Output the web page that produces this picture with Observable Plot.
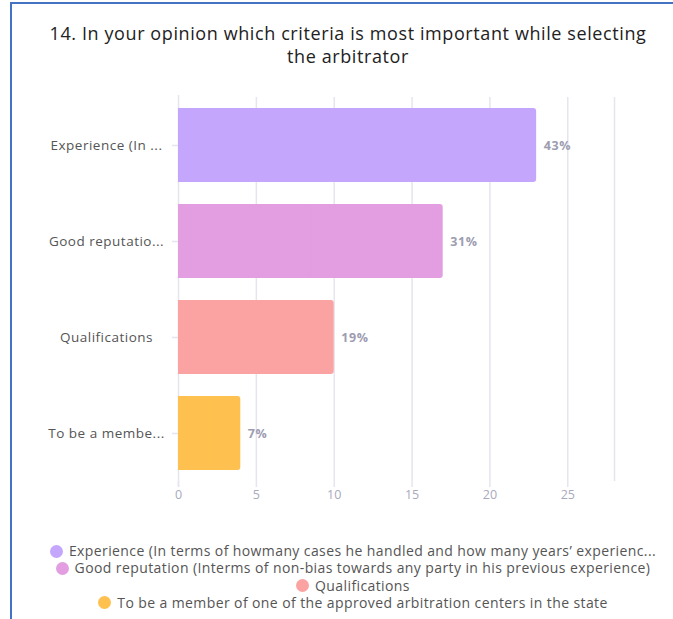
<!DOCTYPE html>
<html>
<head>
<meta charset="utf-8">
<script src="https://cdn.jsdelivr.net/npm/d3@7"></script>
<script src="https://cdn.jsdelivr.net/npm/@observablehq/plot@0.6"></script>
<style>
  html, body { margin: 0; padding: 0; background: #fff; overflow: hidden; }
  body { width: 673px; height: 619px; position: relative; font-family: "Open Sans", sans-serif; }
  #frame { position: absolute; left: 10px; top: 2px; width: 700px; height: 700px;
           border-left: 2px solid #4472c4; border-top: 2px solid #4472c4; }
  #title { position: absolute; left: 0px; width: 696px; top: 22px; text-align: center;
           font-size: 18px; line-height: 23px; color: #222; white-space: nowrap; letter-spacing: 0.6px; }
  #chart { position: absolute; left: 0; top: 80px; }
  #legend { position: absolute; left: 38px; width: 630px; top: 542px; text-align: center;
            font-size: 14px; line-height: 17.3px; color: #555; letter-spacing: 0.4px; }
  .item { white-space: nowrap; }
  .dot { display: inline-block; width: 13px; height: 13px; border-radius: 50%;
         vertical-align: -1.5px; margin-right: 6px; }
  #chart svg g[aria-label="y-axis tick label"] text { letter-spacing: 0.5px; }
  #chart svg g[aria-label="text"] text { letter-spacing: 0.6px; }
</style>
</head>
<body>
<div id="frame"></div>
<div id="title"></div>
<div id="chart"></div>
<div id="legend"></div>
<script>
const titleLines = ["14. In your opinion which criteria is most important while selecting", "the arbitrator"];
const categories = ["Experience (In ...", "Good reputatio...", "Qualifications", "To be a membe..."];
const legendLabels = [
  "Experience (In terms of howmany cases he handled and how many years\u2019 experienc...",
  "Good reputation (Interms of non-bias towards any party in his previous experience)",
  "Qualifications",
  "To be a member of one of the approved arbitration centers in the state"
];
const values = [23, 17, 10, 4];
const percents = ["43%", "31%", "19%", "7%"];
const colors = ["#c4a6fd", "#e29ee0", "#fba3a2", "#fec14f"];
const xTicks = [0, 5, 10, 15, 20, 25];
const xMax = 28;

const data = categories.map((c, i) => ({cat: c, value: values[i], pct: percents[i], color: colors[i]}));
const gridColor = "#e6e5ef";

const title = document.getElementById("title");
titleLines.forEach(t => { const d = document.createElement("div"); d.textContent = t; title.appendChild(d); });

const chart = Plot.plot({
  width: 673,
  height: 430,
  marginLeft: 178,
  marginRight: 59,
  marginTop: 17,
  marginBottom: 29,
  style: {fontFamily: "'Open Sans', sans-serif", background: "transparent"},
  x: {domain: [0, xMax], axis: null},
  y: {domain: categories, paddingInner: 0.23, paddingOuter: 0.115, axis: null},
  marks: [
    Plot.gridX([...xTicks.slice(1), xMax], {stroke: gridColor, strokeOpacity: 1, strokeWidth: 1.5}),
    Plot.ruleY([0], {frameAnchor: "bottom", x1: 0, x2: xMax, stroke: gridColor, strokeWidth: 1.5}),
    Plot.ruleX([0], {stroke: gridColor, strokeWidth: 1.5, insetTop: -2, insetBottom: -6}),
    Plot.barX(data, {x: "value", y: "cat", fill: "color", rx: 3}),
    Plot.barX(data, {x1: 0, x2: d => d.value / 2, y: "cat", fill: "color"}),
    Plot.text(data, {x: "value", y: "cat", text: "pct", dx: 7, textAnchor: "start",
      fill: "#9d9db1", fontSize: 12.5, fontWeight: "bold"}),
    Plot.axisX({ticks: xTicks, tickSize: 6, tickPadding: 3, stroke: gridColor, fill: "#a9a9bd",
      fontSize: 12.5, strokeWidth: 1.5, label: null}),
    Plot.axisY({tickSize: 6, tickPadding: 66, textAnchor: "middle", stroke: gridColor,
      fill: "#555", fontSize: 13.5, strokeWidth: 1.5, label: null})
  ]
});
document.getElementById("chart").appendChild(chart);

const legend = document.getElementById("legend");
legendLabels.forEach((l, i) => {
  const div = document.createElement("div");
  div.className = "item";
  const dot = document.createElement("span");
  dot.className = "dot";
  dot.style.background = colors[i];
  div.appendChild(dot);
  div.appendChild(document.createTextNode(l));
  legend.appendChild(div);
});
</script>
</body>
</html>
